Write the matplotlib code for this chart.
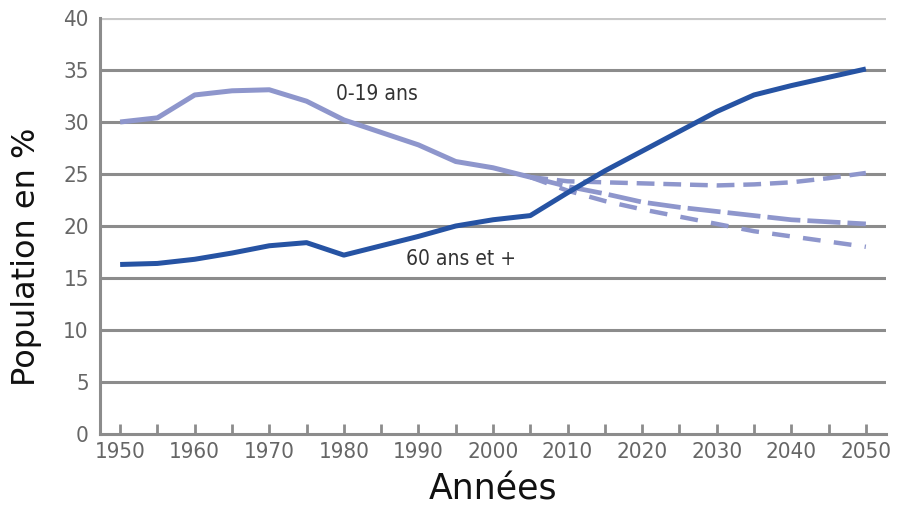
import matplotlib
matplotlib.use("Agg")
import matplotlib.pyplot as plt

years_hist = [1950, 1955, 1960, 1965, 1970, 1975, 1980, 1985, 1990, 1995, 2000, 2005]
young_hist = [30.0, 30.4, 32.6, 33.0, 33.1, 32.0, 30.2, 29.0, 27.8, 26.2, 25.6, 24.7]

years_old = [1950, 1955, 1960, 1965, 1970, 1975, 1980, 1985, 1990, 1995, 2000, 2005,
             2010, 2015, 2020, 2025, 2030, 2035, 2040, 2045, 2050]
old_vals = [16.3, 16.4, 16.8, 17.4, 18.1, 18.4, 17.2, 18.1, 19.0, 20.0, 20.6, 21.0,
            23.2, 25.3, 27.2, 29.1, 31.0, 32.6, 33.5, 34.3, 35.1]

years_proj = [2005, 2010, 2015, 2020, 2025, 2030, 2035, 2040, 2045, 2050]
young_high = [24.7, 24.3, 24.2, 24.1, 24.0, 23.9, 24.0, 24.2, 24.6, 25.1]
young_mid = [24.7, 23.8, 23.1, 22.3, 21.8, 21.4, 21.0, 20.6, 20.4, 20.2]
young_low = [24.7, 23.4, 22.4, 21.6, 20.9, 20.2, 19.5, 19.0, 18.5, 18.0]

y_ticks = [0, 5, 10, 15, 20, 25, 30, 35, 40]
x_labels = [1950, 1960, 1970, 1980, 1990, 2000, 2010, 2020, 2030, 2040, 2050]

DARK = "#2653a3"
LIGHT = "#8e96cc"
GRID = "#8c8c8c"
TICKFONT = ["DejaVu Sans"]

fig = plt.figure(figsize=(8.98, 5.11), dpi=100)
ax = fig.add_axes([100/898, 1-434/511, 786/898, 416/511])

for y in y_ticks[1:-1]:
    ax.axhline(y, color=GRID, lw=2.2, zorder=1)
ax.axhline(40, color="#c8c8c8", lw=3, zorder=1)

ax.plot(years_proj, young_high, color=LIGHT, lw=3.2, dashes=(4, 2), zorder=2)
ax.plot(years_proj, young_low, color=LIGHT, lw=3.2, dashes=(4, 3), zorder=2)
ax.plot(years_proj, young_mid, color=LIGHT, lw=3.4, dashes=(7, 1.5), zorder=2)
ax.plot(years_hist, young_hist, color=LIGHT, lw=3.6, zorder=3, solid_capstyle="butt")
ax.plot(years_old, old_vals, color=DARK, lw=3.6, zorder=4, solid_capstyle="butt")

ax.set_xlim(1947.3, 2052.7)
ax.set_ylim(0, 40)

for s in ["top", "right"]:
    ax.spines[s].set_visible(False)
for s in ["left", "bottom"]:
    ax.spines[s].set_color(GRID)
    ax.spines[s].set_linewidth(2.2)

ax.set_yticks(y_ticks)
ax.set_yticklabels([str(v) for v in y_ticks])
ax.set_xticks(list(range(1950, 2051, 5)))
ax.set_xticklabels([str(y) if y in x_labels else "" for y in range(1950, 2051, 5)])
ax.tick_params(axis="y", length=0, pad=8, labelsize=16, labelcolor="#666666")
ax.tick_params(axis="x", direction="in", length=7, width=2, color=GRID, pad=6,
               labelsize=16, labelcolor="#666666")
for lab in ax.get_xticklabels() + ax.get_yticklabels():
    lab.set_family(TICKFONT)
    lab.set_fontstretch("condensed")

ax.set_ylabel("Population en %", fontsize=23, color="#111111")
ax.yaxis.set_label_coords(-0.074, 0.425)
ax.set_xlabel("Années", fontsize=25, color="#111111", labelpad=7)

ax.text(1979.0, 32.7, "0-19 ans", fontsize=15, color="#333333", va="center",
        fontstretch="condensed")
ax.text(1988.3, 16.8, "60 ans et +", fontsize=15, color="#333333", va="center",
        fontstretch="condensed")

fig.savefig("out.png", dpi=100)
